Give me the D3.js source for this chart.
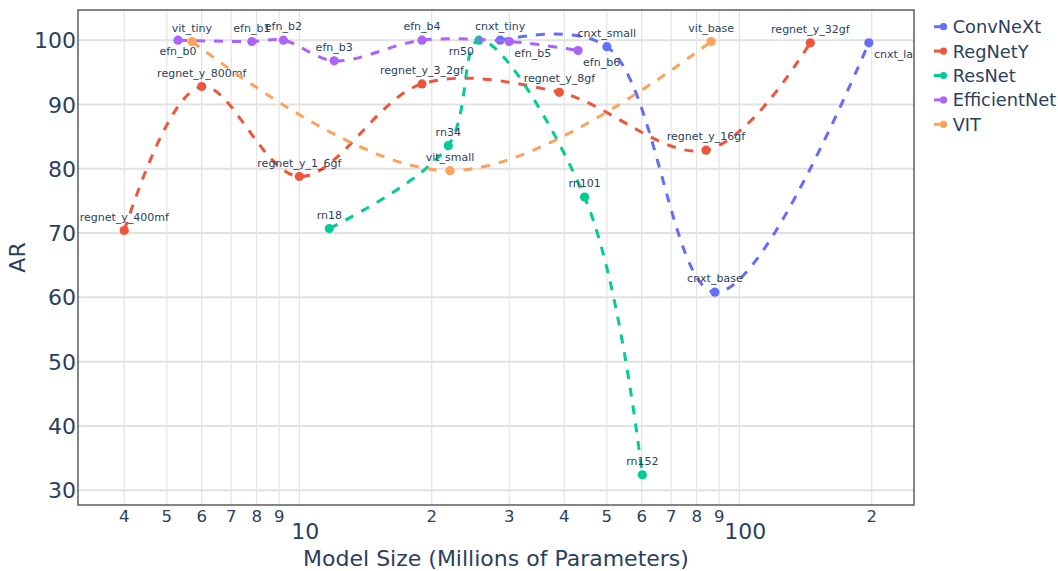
<!DOCTYPE html>
<html><head><meta charset="utf-8">
<script src="https://cdn.jsdelivr.net/npm/d3@7"></script>
<style>body{margin:0;background:#fff;} text{font-family:"DejaVu Sans",sans-serif;}</style>
</head><body><svg id="c" width="1058" height="571"></svg>
<script>
// ---- data ----
const seriesNames = ["ConvNeXt", "RegNetY", "ResNet", "EfficientNet", "VIT"];
const seriesColors = ["#636efa", "#EF553B", "#00cc96", "#ab63fa", "#FFA15A"];

const convnextLabels = ["cnxt_tiny", "cnxt_small", "cnxt_base", "cnxt_large"];
const convnextParams = [28.6, 50.0, 88.0, 197.0];
const convnextAR = [100.0, 99.0, 60.8, 99.6];

const regnetLabels = ["regnet_y_400mf", "regnet_y_800mf", "regnet_y_1_6gf", "regnet_y_3_2gf", "regnet_y_8gf", "regnet_y_16gf", "regnet_y_32gf"];
const regnetParams = [4.0, 6.0, 10.0, 19.0, 39.0, 84.0, 145.0];
const regnetAR = [70.4, 92.8, 78.8, 93.2, 91.9, 82.9, 99.6];

const resnetLabels = ["rn18", "rn34", "rn50", "rn101", "rn152"];
const resnetParams = [11.7, 21.8, 25.6, 44.5, 60.2];
const resnetAR = [70.7, 83.6, 100.0, 75.6, 32.4];

const effnetLabels = ["efn_b0", "efn_b1", "efn_b2", "efn_b3", "efn_b4", "efn_b5", "efn_b6"];
const effnetParams = [5.3, 7.8, 9.2, 12.0, 19.0, 30.0, 43.0];
const effnetAR = [100.0, 99.8, 100.0, 96.8, 100.0, 99.8, 98.4];

const vitLabels = ["vit_tiny", "vit_small", "vit_base"];
const vitParams = [5.7, 22.0, 86.3];
const vitAR = [99.8, 79.7, 99.8];

const yTicks = [30, 40, 50, 60, 70, 80, 90, 100];
const xTitle = "Model Size (Millions of Parameters)";
const yTitle = "AR";

// text positions (style)
const textPos = {
  efn_b0: "bottom center", rn50: "bottom left", efn_b5: "bottom right",
  efn_b6: "bottom right", cnxt_large: "bottom right"
};

const series = [
  {name: seriesNames[0], color: seriesColors[0], labels: convnextLabels, x: convnextParams, y: convnextAR},
  {name: seriesNames[1], color: seriesColors[1], labels: regnetLabels, x: regnetParams, y: regnetAR},
  {name: seriesNames[2], color: seriesColors[2], labels: resnetLabels, x: resnetParams, y: resnetAR},
  {name: seriesNames[3], color: seriesColors[3], labels: effnetLabels, x: effnetParams, y: effnetAR},
  {name: seriesNames[4], color: seriesColors[4], labels: vitLabels, x: vitParams, y: vitAR}
];

// ---- layout ----
const L = 78, R = 914, T = 10, B = 505;
const svg = d3.select("#c");
const x = d3.scaleLog().domain([Math.pow(10, 0.497), Math.pow(10, 2.397)]).range([L, R]);
const y = d3.scaleLinear().domain([27.7, 104.7]).range([B, T]);
const txtColor = "#2a3f5f";

svg.append("defs").append("clipPath").attr("id", "clip")
  .append("rect").attr("x", L).attr("y", T).attr("width", R - L).attr("height", B - T);

// grid
const xt = x.ticks();
svg.append("g").selectAll("line").data(xt).join("line")
  .attr("x1", d => x(d)).attr("x2", d => x(d)).attr("y1", T).attr("y2", B)
  .attr("stroke", "#dedede").attr("stroke-width", 1);
svg.append("g").selectAll("line").data(yTicks).join("line")
  .attr("x1", L).attr("x2", R).attr("y1", d => y(d)).attr("y2", d => y(d))
  .attr("stroke", "#e2e2e2").attr("stroke-width", 2);

// frame
svg.append("rect").attr("x", L).attr("y", T).attr("width", R - L).attr("height", B - T)
  .attr("fill", "none").attr("stroke", "#444").attr("stroke-width", 1.3);

// y tick labels
svg.append("g").selectAll("text").data(yTicks).join("text")
  .attr("x", L - 2).attr("y", d => y(d) + 8).attr("text-anchor", "end")
  .attr("font-size", 22).attr("fill", txtColor).text(d => d);

// x tick labels
const isPow = d => Math.abs(Math.log10(d) - Math.round(Math.log10(d))) < 1e-6;
svg.append("g").selectAll("text").data(xt).join("text")
  .attr("x", d => x(d) + (isPow(d) ? 6 : 0))
  .attr("y", d => isPow(d) ? 539 : 522)
  .attr("text-anchor", "middle")
  .attr("font-size", d => isPow(d) ? 22 : 16.5)
  .attr("fill", txtColor)
  .text(d => isPow(d) ? String(Math.round(d)) : String(Math.round(d / Math.pow(10, Math.floor(Math.log10(d) + 1e-9)))));

// axis titles
svg.append("text").attr("x", (L + R) / 2).attr("y", 566).attr("text-anchor", "middle")
  .attr("font-size", 22).attr("fill", txtColor).text(xTitle);
svg.append("text").attr("transform", `translate(25,${(T + B) / 2}) rotate(-90)`)
  .attr("text-anchor", "middle").attr("font-size", 22).attr("fill", txtColor).text(yTitle);

// Plotly-style spline
function makeTangent(p0, p1, p2, s) {
  const d1x = p0[0] - p1[0], d1y = p0[1] - p1[1], d2x = p2[0] - p1[0], d2y = p2[1] - p1[1];
  const d1a = Math.pow(d1x * d1x + d1y * d1y, 0.25), d2a = Math.pow(d2x * d2x + d2y * d2y, 0.25);
  const numx = (d2a * d2a * d1x - d1a * d1a * d2x) * s, numy = (d2a * d2a * d1y - d1a * d1a * d2y) * s;
  const den1 = 3 * d2a * (d1a + d2a), den2 = 3 * d1a * (d1a + d2a);
  return [[p1[0] + (den1 && numx / den1), p1[1] + (den1 && numy / den1)],
          [p1[0] - (den2 && numx / den2), p1[1] - (den2 && numy / den2)]];
}
function smoothOpen(pts, s) {
  if (pts.length < 3) return "M" + pts.join("L");
  const tg = [];
  for (let i = 1; i < pts.length - 1; i++) tg.push(makeTangent(pts[i - 1], pts[i], pts[i + 1], s));
  let p = "M" + pts[0] + "Q" + tg[0][0] + " " + pts[1];
  for (let i = 2; i < pts.length - 1; i++) p += "C" + tg[i - 2][1] + " " + tg[i - 1][0] + " " + pts[i];
  p += "Q" + tg[pts.length - 3][1] + " " + pts[pts.length - 1];
  return p;
}

const plot = svg.append("g").attr("clip-path", "url(#clip)");
series.forEach(s => {
  const g = plot.append("g");
  const pts = s.x.map((v, i) => [x(v), y(s.y[i])]);
  g.append("path").attr("d", smoothOpen(pts, 1)).attr("fill", "none")
    .attr("stroke", s.color).attr("stroke-width", 3).attr("stroke-dasharray", "9,9");
  g.selectAll("circle").data(s.x).join("circle")
    .attr("cx", d => x(d)).attr("cy", (d, i) => y(s.y[i])).attr("r", 4.6).attr("fill", s.color);
  g.selectAll("text").data(s.labels).join("text")
    .attr("x", (d, i) => {
      const p = textPos[d] || "top center", cx = x(s.x[i]);
      return p.endsWith("right") ? cx + 5 : p.endsWith("left") ? cx - 5 : cx;
    })
    .attr("y", (d, i) => {
      const p = textPos[d] || "top center", cy = y(s.y[i]);
      return p.startsWith("bottom") ? cy + 15 : cy - 10;
    })
    .attr("text-anchor", d => {
      const p = textPos[d] || "top center";
      return p.endsWith("right") ? "start" : p.endsWith("left") ? "end" : "middle";
    })
    .attr("font-size", 11).attr("fill", txtColor).text(d => d);
});

// legend
const lg = svg.append("g");
series.forEach((s, i) => {
  const cy = 26.7 + i * 24.4;
  lg.append("line").attr("x1", 934).attr("x2", 943).attr("y1", cy).attr("y2", cy)
    .attr("stroke", s.color).attr("stroke-width", 3);
  lg.append("circle").attr("cx", 943.5).attr("cy", cy).attr("r", 3.6).attr("fill", s.color);
  lg.append("text").attr("x", 952.7).attr("y", cy + 6.4).attr("font-size", 17.8)
    .attr("fill", txtColor).text(s.name);
});
</script></body></html>
